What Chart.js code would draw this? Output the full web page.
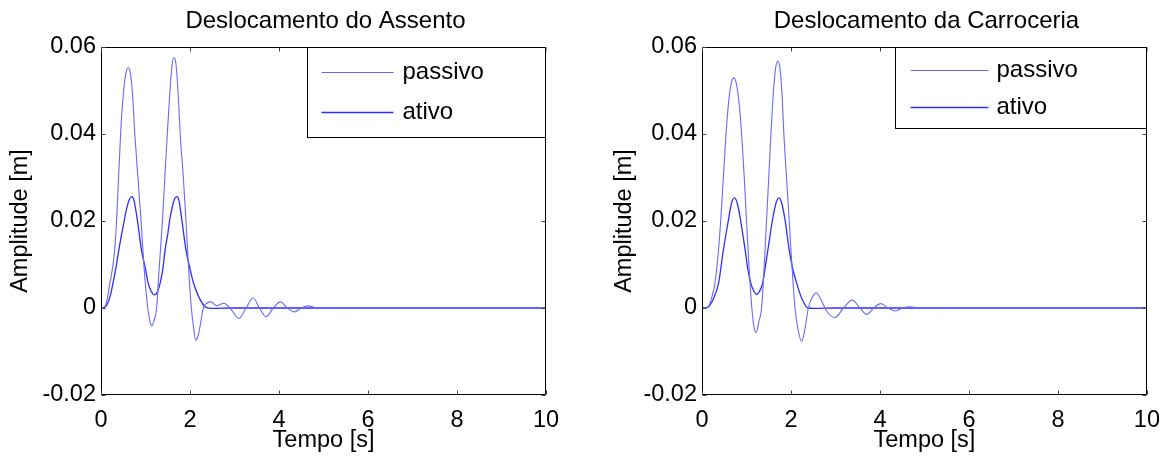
<!DOCTYPE html>
<html><head><meta charset="utf-8">
<script src="https://cdn.jsdelivr.net/npm/chart.js@4.4.0/dist/chart.umd.min.js"></script>
<style>
html,body{margin:0;padding:0;background:#fff;width:1171px;height:457px;overflow:hidden}
.box{position:absolute;top:0;height:457px}
#b1{left:0;width:590px}
#b2{left:590px;width:581px}
</style></head><body>
<div class="box" id="b1"><canvas id="c1"></canvas></div>
<div class="box" id="b2"><canvas id="c2"></canvas></div>
<script>
const xTicks = [0, 2, 4, 6, 8, 10];
const xTickLabels = ['0', '2', '4', '6', '8', '10'];
const yTicks = [-0.02, 0, 0.02, 0.04, 0.06];
const yTickLabels = ['-0.02', '0', '0.02', '0.04', '0.06'];
const titles = ['Deslocamento do Assento', 'Deslocamento da Carroceria'];
const seriesLabels = ['passivo', 'ativo'];
const xLabel = 'Tempo [s]';
const yLabel = 'Amplitude [m]';

// Seat (Assento)
const seatPassiveT = [0,0.1,0.2,0.3,0.35,0.44,0.5,0.56,0.61,0.66, 0.71,0.76,0.83,0.9,0.97,1.05,1.1,1.14,1.19,1.25, 1.3,1.38,1.44,1.49,1.55,1.6,1.64,1.68,1.73,1.78, 1.85,1.91,1.97,2.03,2.08,2.13,2.18,2.23,2.3,2.38, 2.47,2.6,2.76,2.92,3.1,3.26,3.42,3.56,3.71,3.87, 4.03,4.19,4.35,4.5,4.66,4.85,5.0,5.3,5.6,6.0, 6.5,7,7.5,8,8.5,9,9.5,10];
const seatPassiveV = [0,0.0005,0.0057,0.0125,0.020,0.040,0.049,0.0540,0.0553,0.0540, 0.0490,0.040,0.030,0.020,0.009,0.0,-0.003,-0.0041,-0.003,0.0, 0.008,0.020,0.031,0.040,0.050,0.0560,0.0576,0.0565,0.050,0.040, 0.030,0.020,0.009,0.0,-0.0045,-0.0074,-0.0065,-0.004,0.0,0.0011, 0.0014,0.0005,0.0011,-0.0003,-0.0024,0.0,0.0023,0.0,-0.002,0.0, 0.0014,0.0,-0.0009,0.0,0.0005,0.0,-0.0001,0.0001,0,0, 0,0,0,0,0,0,0,0];
const seatActiveT = [0,0.1,0.2,0.27,0.34,0.4,0.46,0.52,0.58,0.64, 0.69,0.74,0.82,0.91,1.0,1.06,1.13,1.2,1.27,1.33, 1.39,1.44,1.5,1.54,1.6,1.65,1.7,1.75,1.82,1.91, 2.0,2.08,2.2,2.35,2.5,3,4,5,6,7,8,9,10];
const seatActiveV = [0,0.0003,0.0025,0.0057,0.0095,0.0133,0.0168,0.020,0.0230,0.0250, 0.0256,0.0248,0.020,0.0133,0.0090,0.0057,0.0038,0.0030,0.0038,0.0057, 0.0090,0.0133,0.0170,0.020,0.0232,0.0250,0.0256,0.0248,0.020,0.0133, 0.0090,0.0057,0.0025,0.0002,-0.0001,0,0,0,0,0,0,0,0];

// Body (Carroceria)
const bodyPassiveT = [0,0.14,0.22,0.29,0.36,0.42,0.48,0.54,0.6,0.66, 0.72,0.78,0.84,0.89,0.95,1.0,1.06,1.12,1.17,1.22, 1.28,1.34,1.4,1.45,1.5,1.55,1.6,1.65,1.7,1.75, 1.8,1.84,1.9,1.96,2.02,2.09,2.16,2.24,2.31,2.39, 2.48,2.57,2.68,2.8,2.99,3.18,3.38,3.55,3.70,3.86, 4.02,4.18,4.34,4.5,4.67,4.9,5.2,5.6,6,6.5, 7,7.5,8,8.5,9,9.5,10];
const bodyPassiveV = [0,0.0003,0.0025,0.0056,0.012,0.020,0.030,0.040,0.0475,0.0518, 0.0529,0.0512,0.0465,0.040,0.030,0.020,0.009,0.0,-0.0045,-0.0056, -0.003,0.0,0.010,0.020,0.030,0.040,0.049,0.0548,0.0567,0.0552, 0.049,0.040,0.030,0.020,0.010,0.0,-0.005,-0.0077,-0.005,0.0, 0.0025,0.0035,0.0018,-0.0007,-0.0022,0.0,0.0018,0.0,-0.0015,0.0, 0.0010,0.0,-0.0007,0.0,0.0003,0.0,0.0001,0,0,0, 0,0,0,0,0,0,0];
const bodyActiveT = [0,0.14,0.25,0.37,0.48,0.59,0.66,0.73,0.8,0.87, 0.97,1.03,1.1,1.17,1.23,1.29,1.36,1.48,1.58,1.66, 1.73,1.8,1.87,1.96,2.04,2.13,2.25,2.38,2.5,3, 4,5,6,7,8,9,10];
const bodyActiveV = [0,0.0002,0.002,0.0056,0.0133,0.020,0.0240,0.0253,0.0238,0.020, 0.0133,0.0090,0.0056,0.0038,0.0031,0.0038,0.0056,0.0133,0.020,0.0240, 0.0253,0.0238,0.020,0.0133,0.0090,0.0056,0.002,0.0,-0.0001,0, 0,0,0,0,0,0,0];

const FONT = "'Liberation Sans', Arial, Helvetica, sans-serif";
const pts = (t, v) => t.map((x, i) => ({x, y: v[i]}));

const framePlugin = {
  id: 'frame',
  afterDatasetsDraw(chart) {
    const {ctx, chartArea: a, scales} = chart;
    ctx.save();
    ctx.strokeStyle = '#000';
    ctx.lineWidth = 1;
    const L = Math.round(a.left) + 0.5, R = Math.round(a.right) - 0.5;
    const T = Math.round(a.top) + 0.5, B = Math.round(a.bottom) - 0.5;
    ctx.beginPath();
    ctx.rect(L, T, R - L, B - T);
    ctx.stroke();
    ctx.strokeStyle = '#444';
    ctx.beginPath();
    const tl = 4;
    xTicks.forEach(v => {
      const x = Math.round(scales.x.getPixelForValue(v)) + 0.5;
      ctx.moveTo(x, B); ctx.lineTo(x, B - tl);
      ctx.moveTo(x, T); ctx.lineTo(x, T + tl);
    });
    yTicks.forEach(v => {
      const y = Math.round(scales.y.getPixelForValue(v)) + 0.5;
      ctx.moveTo(L, y); ctx.lineTo(L + tl, y);
      ctx.moveTo(R, y); ctx.lineTo(R - tl, y);
    });
    ctx.stroke();
    ctx.restore();
  },
  afterDraw(chart) {
    const o = chart.options.plugins.boxLegend;
    const {ctx, chartArea: a} = chart;
    ctx.save();
    // title centred over the plot box
    ctx.fillStyle = '#000';
    ctx.font = o.titleSize + 'px ' + FONT;
    ctx.textAlign = 'center';
    ctx.textBaseline = 'middle';
    ctx.fillText(o.title, (a.left + a.right) / 2 + 2, o.titleY);
    // legend box
    const x0 = Math.round(a.right - o.w) + 0.5, y0 = Math.round(a.top) + 0.5;
    ctx.fillStyle = '#fff';
    ctx.fillRect(x0, y0, o.w, o.h);
    ctx.strokeStyle = '#000';
    ctx.lineWidth = 1;
    ctx.strokeRect(x0, y0, Math.round(a.right) - 0.5 - x0, o.h);
    chart.data.datasets.forEach((ds, i) => {
      const y = Math.round(y0 + o.rows[i]) + 0.5;
      ctx.strokeStyle = ds.borderColor;
      ctx.lineWidth = ds.borderWidth;
      ctx.beginPath();
      ctx.moveTo(x0 + o.l1, y); ctx.lineTo(x0 + o.l2, y);
      ctx.stroke();
      ctx.fillStyle = '#000';
      ctx.font = o.font + 'px ' + FONT;
      ctx.textBaseline = 'middle';
      ctx.textAlign = 'left';
      ctx.fillText(ds.label, x0 + o.tx, y);
    });
    ctx.restore();
  }
};

function makeChart(id, title, passive, active, cfg) {
  cfg.legend.title = title;
  return new Chart(document.getElementById(id), {
    type: 'line',
    data: {
      datasets: [
        {label: seriesLabels[0], data: passive, borderColor: 'rgb(105,105,255)', borderWidth: 1.1, pointRadius: 0, cubicInterpolationMode: 'monotone', fill: false},
        {label: seriesLabels[1], data: active, borderColor: 'rgb(45,45,255)', borderWidth: 1.3, pointRadius: 0, cubicInterpolationMode: 'monotone', fill: false}
      ]
    },
    options: {
      responsive: true,
      maintainAspectRatio: false,
      animation: false,
      devicePixelRatio: 1,
      layout: {padding: {left: 0, right: cfg.padRight, top: 47, bottom: 0}},
      plugins: {
        legend: {display: false},
        tooltip: {enabled: false},
        title: {display: false},
        boxLegend: cfg.legend
      },
      scales: {
        x: {
          type: 'linear', min: 0, max: 10,
          afterBuildTicks: s => { s.ticks = xTicks.map(v => ({value: v})); },
          afterFit: s => { s.height = 62; },
          grid: {display: false, drawTicks: false},
          border: {display: false},
          ticks: {color: '#000', font: {family: FONT, size: 23.5}, padding: 11, maxRotation: 0,
            callback: (v) => xTickLabels[xTicks.indexOf(v)]},
          title: {display: true, text: xLabel, color: '#000', font: {family: FONT, size: 23.5}, padding: {top: 0, bottom: 2}}
        },
        y: {
          type: 'linear', min: -0.02, max: 0.06,
          afterBuildTicks: s => { s.ticks = yTicks.map(v => ({value: v})); },
          afterFit: s => { s.width = cfg.yWidth; },
          grid: {display: false, drawTicks: false},
          border: {display: false},
          ticks: {color: '#000', font: {family: FONT, size: 23.5}, padding: 5,
            callback: (v) => yTickLabels[yTicks.indexOf(v)]},
          title: {display: true, text: yLabel, color: '#000', font: {family: FONT, size: 23.5}, padding: {top: cfg.yTitlePad, bottom: 0}}
        }
      }
    },
    plugins: [framePlugin]
  });
}

makeChart('c1', titles[0], pts(seatPassiveT, seatPassiveV), pts(seatActiveT, seatActiveV),
  {padRight: 44, yWidth: 101, yTitlePad: 6,
   legend: {w: 239, h: 90, rows: [24, 64], l1: 14, l2: 86, tx: 95, font: 24, titleSize: 24, titleY: 21}});
makeChart('c2', titles[1], pts(bodyPassiveT, bodyPassiveV), pts(bodyActiveT, bodyActiveV),
  {padRight: 23, yWidth: 112, yTitlePad: 20,
   legend: {w: 252, h: 81, rows: [22, 59], l1: 15, l2: 93, tx: 101, font: 24, titleSize: 24, titleY: 21}});
</script>
</body></html>
